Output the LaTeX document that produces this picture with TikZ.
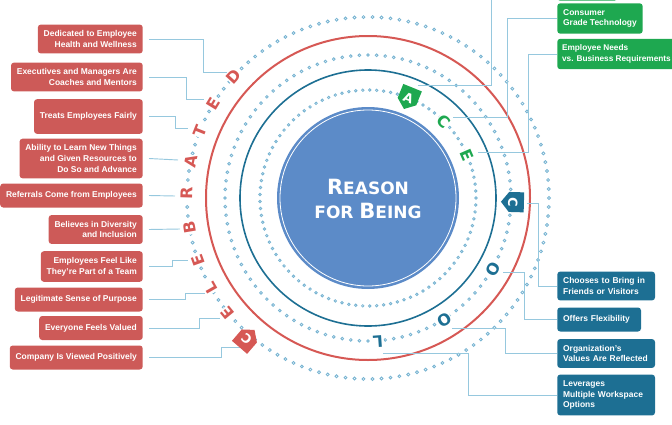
\documentclass[tikz,border=0pt]{standalone}
\usepackage{fontspec}
\setmainfont{Liberation Sans}
\newfontfamily\titlefont{DejaVu Sans}

\definecolor{boxred}{RGB}{205,90,88}
\definecolor{ringred}{RGB}{214,88,84}
\definecolor{acegreen}{RGB}{30,168,80}
\definecolor{coolteal}{RGB}{29,111,147}
\definecolor{corefill}{RGB}{92,139,200}
\definecolor{linkblue}{RGB}{150,200,222}
\definecolor{dotblue}{RGB}{120,180,210}

\tikzset{
  lbox/.style={fill=boxred, text=white, rounded corners=2.25pt, font=\fontsize{6.35}{8}\selectfont\bfseries,
    align=right, inner xsep=4.4pt, inner ysep=4.5pt, minimum height=18pt, anchor=east},
  gbox/.style={lbox, fill=acegreen, align=left, anchor=west},
  rbox/.style={gbox, fill=coolteal, text width=64.5pt},
  link/.style={linkblue, line width=0.7pt},
  ringdot/.style={dotblue, line width=0.65pt},
  ltr/.style={font=\titlefont\bfseries\fontsize{12}{12}\selectfont, fill=white, inner sep=0.5pt},
  tagltr/.style={text=white, font=\titlefont\bfseries\fontsize{9.5}{9.5}\selectfont, inner sep=0pt},
  lettertag/.pic={\fill (-10,11) -- (10,11) -- (10,-4) -- (0,-12) -- (-10,-4) -- cycle;}
}

\begin{document}
\begin{tikzpicture}[x=0.75pt, y=0.75pt]
    \useasboundingbox (0,0) rectangle (672,-425);
    \coordinate (ctr) at (368,-198);

    % dotted rings
    \foreach \i in {1,...,97} \draw[ringdot] ([shift={(3.7113*\i:108)}]ctr) circle (1.25);
    \foreach \i in {1,...,104} \draw[ringdot] ([shift={(3.4615*\i:143)}]ctr) circle (1.35);
    \foreach \i in {1,...,126} \draw[ringdot] ([shift={(2.8571*\i:181)}]ctr) circle (1.45);

    \draw[coolteal, line width=1.2pt] (ctr) circle (128);
    \draw[ringred, line width=1.5pt] (ctr) circle (162);

    % core
    \node[circle, fill=corefill, minimum size=136.5pt, inner sep=0pt] (core) at (ctr) {};
    \draw[white, line width=0.6pt] (ctr) circle (88);
    \node[text=white, align=center, font=\titlefont\bfseries\fontsize{12.75}{17.6}\selectfont] (title) at (368,-199)
        {{\fontsize{15.75}{17.6}\selectfont R}EASON\\FOR {\fontsize{15.75}{17.6}\selectfont B}EING};

    % boxes, left
    \node[lbox] (health) at (143,-39) {Dedicated to Employee\\Health and Wellness};
    \node[lbox] (coaches) at (143,-77) {Executives and Managers Are\\Coaches and Mentors};
    \node[lbox, minimum height=26pt] (fairly) at (143,-116.5) {Treats Employees Fairly};
    \node[lbox] (learning) at (143,-158.5) {Ability to Learn New Things\\and Given Resources to\\Do So and Advance};
    \node[lbox] (referrals) at (143,-195.5) {Referrals Come from Employees};
    \node[lbox] (diversity) at (143,-229.5) {Believes in Diversity\\and Inclusion};
    \node[lbox] (team) at (143,-266.5) {Employees Feel Like\\They're Part of a Team};
    \node[lbox] (purpose) at (143,-299.5) {Legitimate Sense of Purpose};
    \node[lbox] (valued) at (143,-328) {Everyone Feels Valued};
    \node[lbox] (positive) at (143,-357.5) {Company Is Viewed Positively};

    % boxes, right
    \node[gbox, anchor=south west, minimum width=45pt, minimum height=20pt] (cutoff) at (557,-1) {};
    \node[gbox] (consumer) at (557,-18.5) {Consumer\\Grade Technology};
    \node[gbox, inner xsep=3.6pt, font=\fontsize{6.2}{8}\selectfont\bfseries] (needs) at (557,-54) {Employee Needs\\vs. Business Requirements};
    \node[rbox] (visitors) at (557,-286) {Chooses to Bring in\\Friends or Visitors};
    \node[rbox, text width=54pt] (flex) at (557,-319.5) {Offers Flexibility};
    \node[rbox] (values) at (557,-353.5) {Organization's\\Values Are Reflected};
    \node[rbox] (workspace) at (557,-395) {Leverages\\Multiple Workspace\\Options};

    % connector ends
    \coordinate (pD) at (227,-72);
    \coordinate (pE) at (204,-99);
    \coordinate (pT) at (188,-128);
    \coordinate (pA) at (178,-160);
    \coordinate (pR) at (175,-196);
    \coordinate (pB) at (180,-229);
    \coordinate (pE2) at (188,-260);
    \coordinate (pL) at (205,-293);
    \coordinate (pE3) at (220,-318);
    \coordinate (pC) at (241,-347);
    \coordinate (qA) at (418,-85);
    \coordinate (qC) at (453,-117);
    \coordinate (qE) at (478,-152);
    \coordinate (qC2) at (527,-203);
    \coordinate (qO) at (503,-272);
    \coordinate (qO2) at (452,-328);
    \coordinate (qL) at (383,-353);

    \draw[link] ([xshift=4.5pt]health.east) -| (203,-72) -- (pD);
    \draw[link] ([xshift=4.5pt]coaches.east) -| (186,-99) -- (pE);
    \draw[link] ([xshift=4.5pt]fairly.east) -| (175,-128) -- (pT);
    \draw[link] ([xshift=4.5pt]learning.east) -- (pA);
    \draw[link] ([xshift=4.5pt]referrals.east) -- (pR);
    \draw[link] ([xshift=4.5pt]diversity.east) -- (pB);
    \draw[link] ([xshift=4.5pt]team.east) -| (172,-260) -- (pE2);
    \draw[link] ([xshift=4.5pt]purpose.east) -| (185,-293) -- (pL);
    \draw[link] ([xshift=4.5pt]valued.east) -| (199,-318) -- (pE3);
    \draw[link] ([xshift=4.5pt]positive.east) -| (221,-347) -- (pC);

    \draw[link] (cutoff.west) -| (491,-85) -- (qA);
    \draw[link] (consumer.west) -| (507,-117) -- (qC);
    \draw[link] (needs.west) -| (528,-152) -- (qE);
    \draw[link] (visitors.west) -| (538,-203) -- (qC2);
    \draw[link] (flex.west) -| (524,-272) -- (qO);
    \draw[link] (values.west) -| (505,-328) -- (qO2);
    \draw[link] (workspace.west) -| (468,-353) -- (qL);

    % letters
    \foreach \a/\l/\n in {219.3/E/e1, 209.7/L/l1, 200/E/e2, 189.5/B/b1, 178.4/R/r1,
                          168.4/A/a1, 158.3/T/t1, 148.8/E/e3, 137.7/D/d1}
        \node[ltr, text=ringred, rotate=\a-90] (\n) at ([shift={(\a:181)}]ctr) {\l};
    \foreach \a/\l/\n in {45.4/C/c2, 23.5/E/e4}
        \node[ltr, text=acegreen, rotate=\a-90] (\n) at ([shift={(\a:108)}]ctr) {\l};
    \foreach \a/\l/\n in {-29.7/O/o1, -58/O/o2, -86/L/l2}
        \node[ltr, text=coolteal, rotate=\a-90] (\n) at ([shift={(\a:144)}]ctr) {\l};

    % tags
    \pic[ringred, rotate=139.3] at ([shift={(229.3:186)}]ctr) {lettertag};
    \node[tagltr, rotate=139.3] (c1) at ([shift={(229.3:186)}]ctr) {C};
    \pic[acegreen, rotate=-22] at ([shift={(68:108)}]ctr) {lettertag};
    \node[tagltr, rotate=-22] (a2) at ([shift={(68:108)}]ctr) {A};
    \pic[coolteal, rotate=-91.6] at ([shift={(-1.6:145)}]ctr) {lettertag};
    \node[tagltr, rotate=-91.6] (c3) at ([shift={(-1.6:145)}]ctr) {C};
\end{tikzpicture}
\end{document}
